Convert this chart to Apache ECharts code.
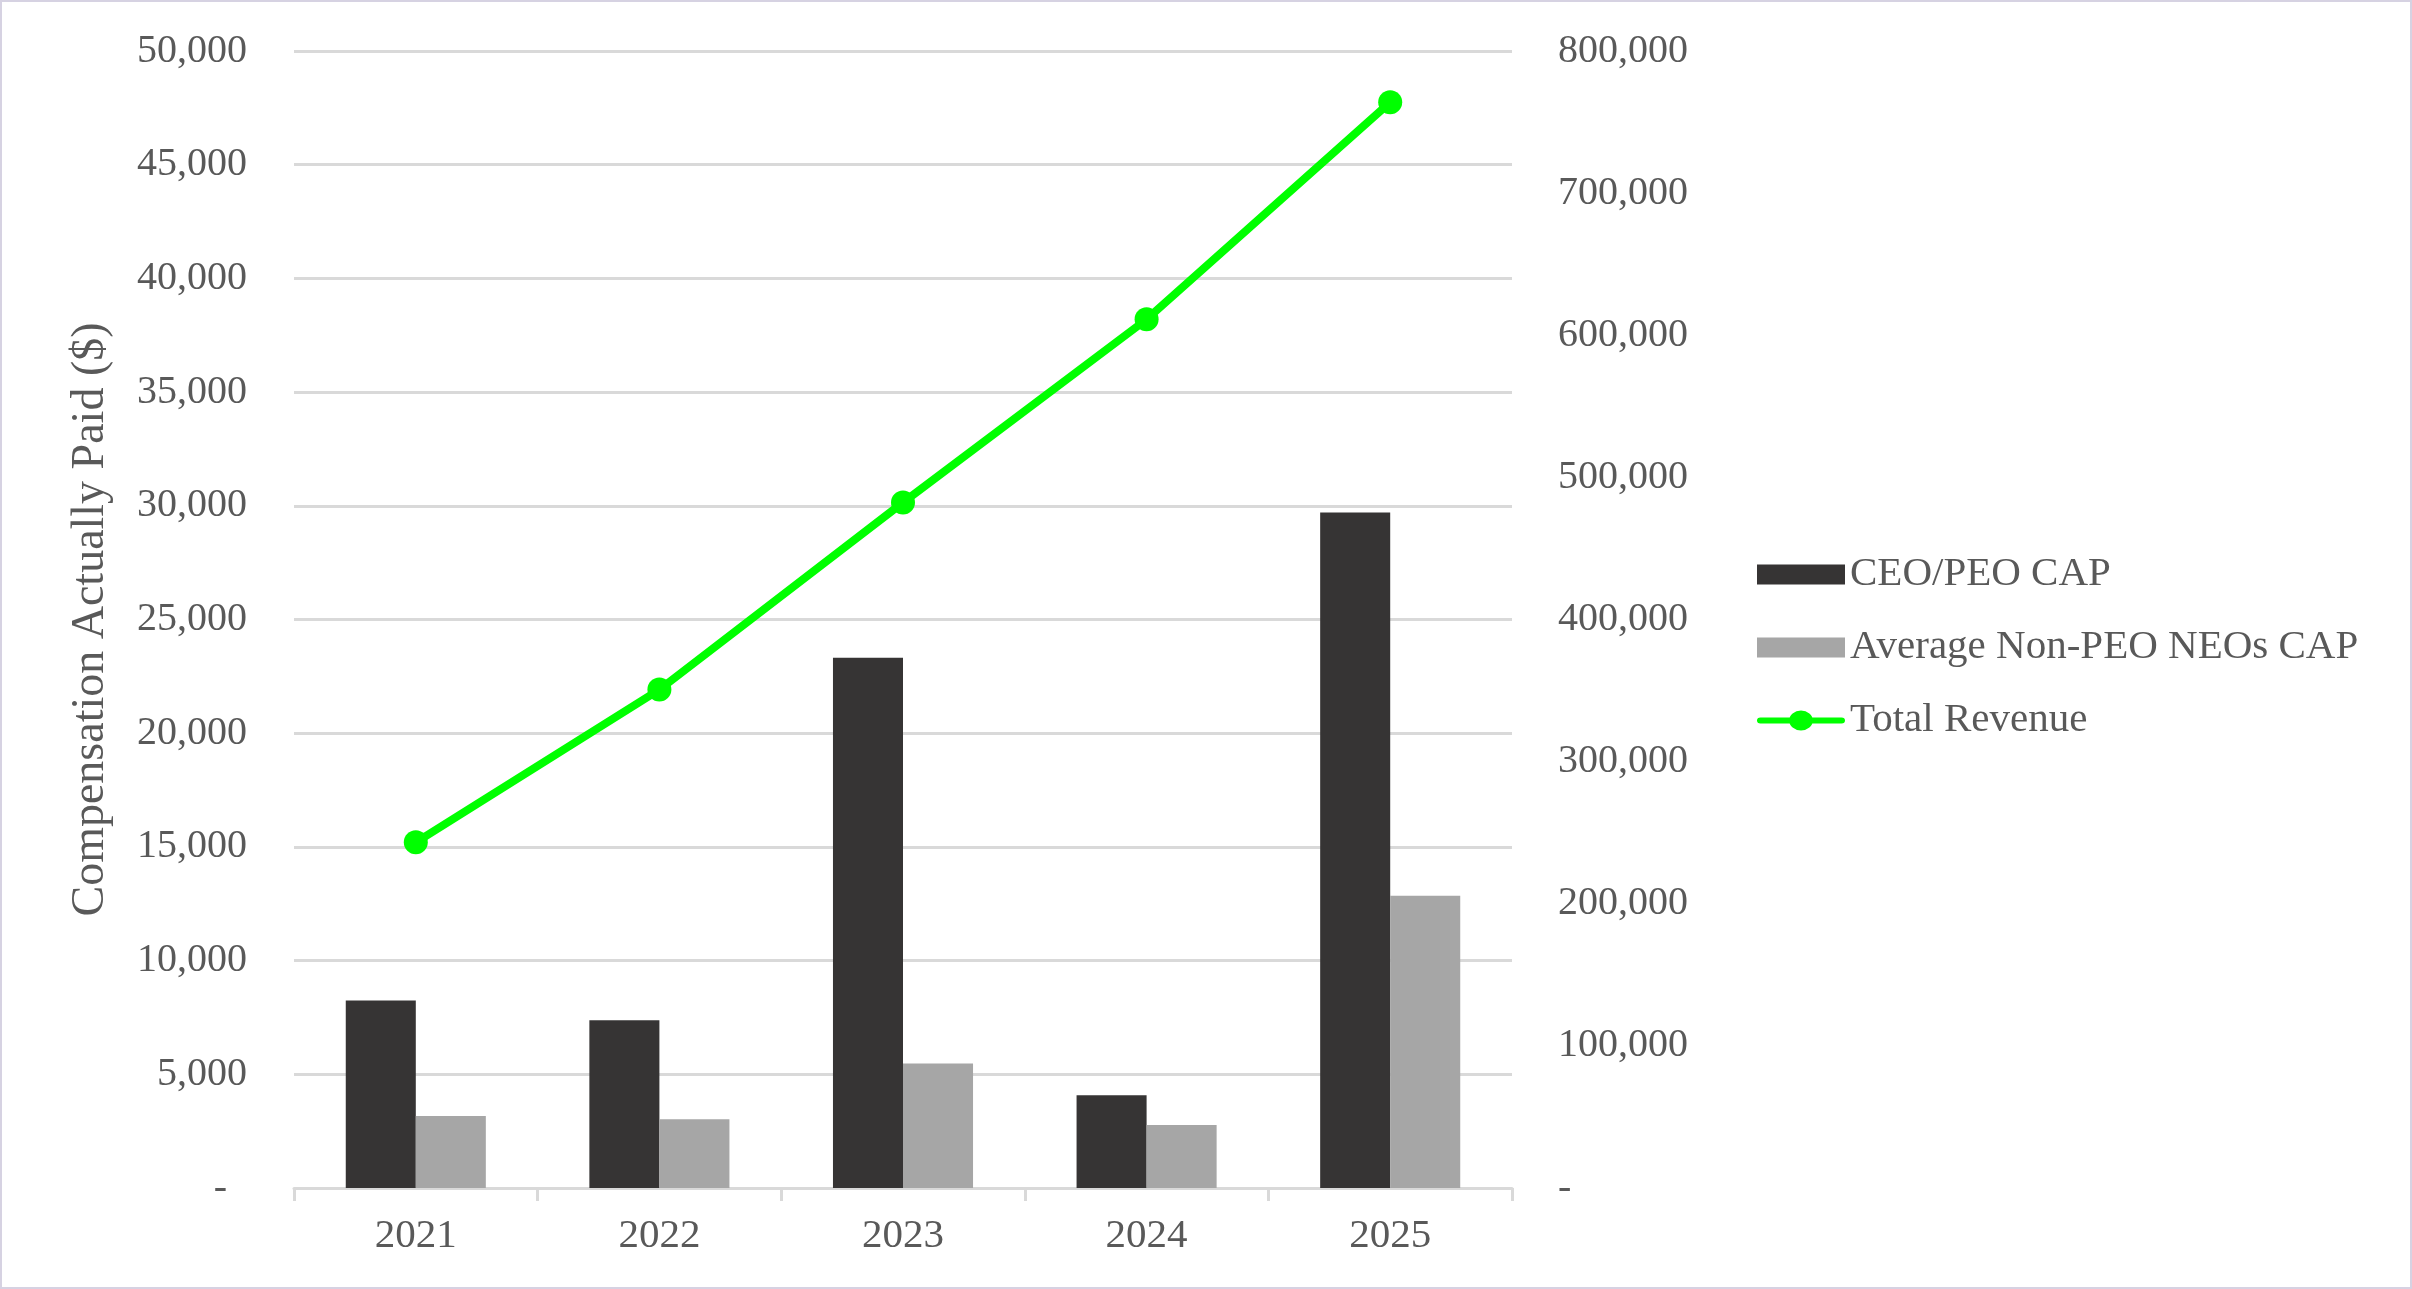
<!DOCTYPE html>
<html>
<head>
<meta charset="utf-8">
<script src="https://cdn.jsdelivr.net/npm/echarts@6/dist/echarts.min.js"></script>
<style>
html,body{margin:0;padding:0;background:#fff;}
#wrap{width:2412px;height:1289px;box-sizing:border-box;border:2px solid #d6d2e2;}
#chart{width:2408px;height:1285px;}
</style>
</head>
<body>
<div id="wrap"><div id="chart"></div></div>
<script>
const categories = ['2021', '2022', '2023', '2024', '2025'];
const ceoCap = [8250, 7380, 23320, 4080, 29710];
const neoCap = [3170, 3020, 5480, 2770, 12850];
const totalRevenue = [243200, 350700, 482300, 611200, 763900];
const leftTicks = {min: 0, max: 50000, interval: 5000};
const rightTicks = {min: 0, max: 800000, interval: 100000};

const FONT = "'Liberation Serif', 'Times New Roman', serif";
const TXT = '#595959';
function fmt(side) {
  return function (v) {
    if (v === 0) return side === 'left' ? '{z|-}' : '{r|-}';
    return v.toLocaleString('en-US');
  };
}
const lineIcon = 'path://M3,8.5 L85,8.5 A3.5,3.5 0 0,1 85,15.5 L3,15.5 A3.5,3.5 0 0,1 3,8.5 Z M32,12 A12,12 0 1,1 56,12 A12,12 0 1,1 32,12 Z';
const chart = echarts.init(document.getElementById('chart'), null, {renderer: 'canvas'});
chart.setOption({
  animation: false,
  backgroundColor: '#fff',
  textStyle: {fontFamily: FONT},
  grid: {left: 292, right: 898, top: 49, bottom: 99, containLabel: false},
  legend: {
    orient: 'vertical',
    left: 1750,
    top: 547,
    itemWidth: 88,
    itemHeight: 20,
    itemGap: 32,
    symbolKeepAspect: false,
    textStyle: {fontFamily: FONT, fontSize: 41, color: TXT, lineHeight: 40},
    data: [
      {name: 'CEO/PEO CAP', icon: 'rect'},
      {name: 'Average Non-PEO NEOs CAP', icon: 'rect'},
      {name: 'Total Revenue', icon: lineIcon, itemStyle: {color: '#00ff00', borderWidth: 0}}
    ]
  },
  xAxis: {
    type: 'category',
    data: categories,
    axisLine: {lineStyle: {color: '#d9d9d9', width: 3}},
    axisTick: {show: true, length: 13, lineStyle: {color: '#d9d9d9', width: 3}},
    axisLabel: {fontFamily: FONT, fontSize: 41, color: TXT, margin: 28}
  },
  yAxis: [
    {
      type: 'value',
      min: leftTicks.min, max: leftTicks.max, interval: leftTicks.interval,
      name: 'Compensation Actually Paid ($)',
      nameLocation: 'middle',
      nameGap: 180,
      nameRotate: 90,
      nameTextStyle: {fontFamily: FONT, fontSize: 46, color: TXT},
      axisLine: {show: false},
      axisTick: {show: false},
      splitLine: {lineStyle: {color: '#d9d9d9', width: 3}},
      axisLabel: {
        fontFamily: FONT, fontSize: 40, color: TXT, margin: 47,
        formatter: fmt('left'),
        rich: {z: {fontFamily: FONT, fontSize: 40, color: TXT, padding: [0, 20, 0, 0]}}
      }
    },
    {
      type: 'value',
      min: rightTicks.min, max: rightTicks.max, interval: rightTicks.interval,
      axisLine: {show: false},
      axisTick: {show: false},
      splitLine: {show: false},
      axisLabel: {
        fontFamily: FONT, fontSize: 40, color: TXT, margin: 46,
        formatter: fmt('right'),
        rich: {r: {fontFamily: FONT, fontSize: 40, color: TXT}}
      }
    }
  ],
  series: [
    {
      name: 'CEO/PEO CAP', type: 'bar', data: ceoCap, yAxisIndex: 0,
      barGap: 0, barCategoryGap: '42.5%',
      itemStyle: {color: '#363434'}
    },
    {
      name: 'Average Non-PEO NEOs CAP', type: 'bar', data: neoCap, yAxisIndex: 0,
      barGap: 0, barCategoryGap: '42.5%',
      itemStyle: {color: '#a6a6a6'}
    },
    {
      name: 'Total Revenue', type: 'line', data: totalRevenue, yAxisIndex: 1,
      symbol: 'circle', symbolSize: 24,
      lineStyle: {color: '#00ff00', width: 8},
      itemStyle: {color: '#00ff00'},
      z: 5
    }
  ]
});
</script>
</body>
</html>
